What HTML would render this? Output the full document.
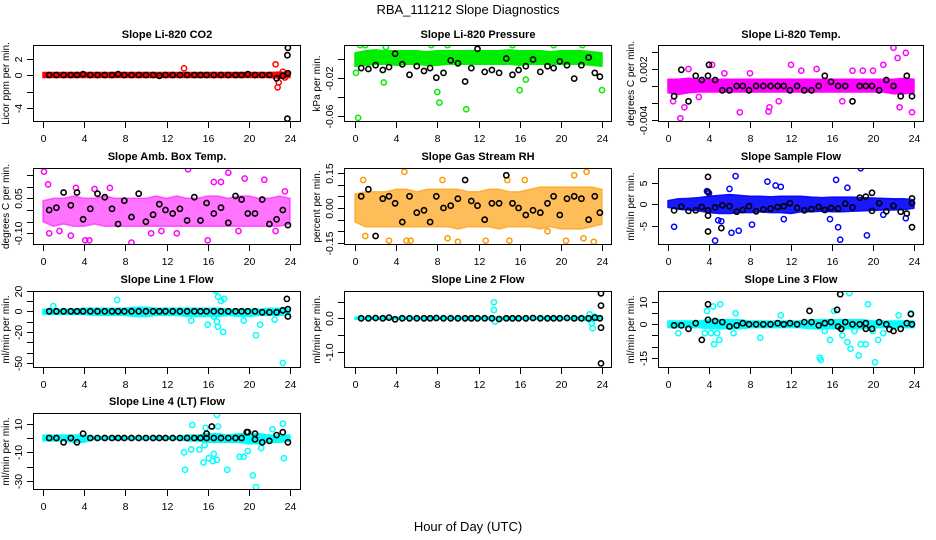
<!DOCTYPE html>
<html><head><meta charset="utf-8"><style>
body{margin:0;background:#fff}
svg{display:block;font-family:"Liberation Sans",Arial,sans-serif}
</style></head><body>
<svg id="chart" width="936" height="540" viewBox="0 0 936 540">
<text x="468" y="14" text-anchor="middle" font-size="13">RBA_111212  Slope Diagnostics</text>
<text x="468" y="531" text-anchor="middle" font-size="13">Hour of Day (UTC)</text>
</svg>
<script>
// ---- shared data ----
const xTicks=[0,4,8,12,16,20,24];
const bandX=[0,1,2,3,4,5,6,7,8,9,10,11,12,13,14,15,16,17,18,19,20,21,22,23,24];
const blackX=[0.6,1.3,2.0,2.7,3.3,3.9,4.6,5.3,6.0,6.7,7.3,7.9,8.6,9.3,10.0,10.7,11.3,11.9,12.6,13.3,14.0,14.7,15.3,15.9,16.6,17.3,18.0,18.7,19.3,19.9,20.6,21.3,22.0,22.7,23.3,23.8];

// P1 CO2
const p1Hi=[0.3,0.3,0.3,0.3,0.3,0.3,0.3,0.3,0.3,0.3,0.3,0.3,0.3,0.3,0.3,0.3,0.3,0.3,0.3,0.3,0.3,0.3,0.3,0.35,0.3];
const p1Lo=[-0.3,-0.3,-0.3,-0.3,-0.3,-0.3,-0.3,-0.3,-0.3,-0.3,-0.3,-0.3,-0.3,-0.3,-0.3,-0.3,-0.3,-0.3,-0.3,-0.3,-0.3,-0.3,-0.3,-0.4,-0.3];
const p1BlackY=[0,0,0,0,0,0.1,0,0,0,0,0.1,0,0,0,0,0,-0.1,0,0,0,0,0,0,0,0,0,0,0,0,0.1,0,0,0,-0.4,-0.1,0.2];
const p1OutX=[13.7,22.6,22.8,22.9,23.3,23.5];
const p1OutY=[0.8,1.3,-1.5,-0.9,0.4,-0.3];
const p1BOutX=[23.8,23.75,23.75];
const p1BOutY=[3.3,2.4,-5.3];

// P2 Pressure
const p2Hi=[0.006,0.008,0.009,0.008,0.008,0.008,0.008,0.007,0.008,0.008,0.008,0.008,0.008,0.008,0.008,0.009,0.008,0.008,0.008,0.007,0.008,0.008,0.008,0.007,0.006];
const p2Lo=[-0.008,-0.007,-0.006,-0.006,-0.007,-0.006,-0.006,-0.007,-0.007,-0.006,-0.006,-0.006,-0.006,-0.006,-0.006,-0.006,-0.007,-0.006,-0.006,-0.006,-0.006,-0.006,-0.006,-0.007,-0.008];
const p2BlackY=[-0.010,-0.011,-0.007,-0.012,-0.009,0.005,-0.006,-0.017,-0.008,-0.013,-0.010,-0.020,-0.015,-0.002,-0.005,-0.024,-0.010,0.010,-0.014,-0.012,-0.015,0.000,-0.017,-0.012,-0.008,-0.001,-0.014,-0.008,-0.010,-0.003,-0.007,-0.021,-0.007,0.001,-0.015,-0.019];
const p2OutX=[0.3,0.1,2.8,8.0,8.2,10.8,16.0,16.6,24.0,1.0,7.4,9.0,15.3,19.3,22.1,0.5,3.0];
const p2OutY=[-0.062,-0.015,-0.025,-0.035,-0.046,-0.053,-0.033,-0.022,-0.033,0.014,0.014,0.014,0.014,0.014,0.014,0.014,0.012];
const p2BOutX=[];const p2BOutY=[];

// P3 Li-820 Temp
const p3Hi=[0.0008,0.0008,0.0009,0.0008,0.0008,0.0008,0.0008,0.0008,0.0008,0.0008,0.0008,0.0008,0.0008,0.0008,0.0008,0.0008,0.0008,0.0008,0.0008,0.0008,0.0008,0.0008,0.0008,0.0009,0.0008];
const p3Lo=[-0.0008,-0.0010,-0.0008,-0.0007,-0.0007,-0.0007,-0.0007,-0.0007,-0.0007,-0.0007,-0.0007,-0.0007,-0.0007,-0.0007,-0.0007,-0.0007,-0.0007,-0.0007,-0.0007,-0.0007,-0.0007,-0.0007,-0.0009,-0.0009,-0.0008];
const p3BlackY=[-0.0012,0.0019,-0.0018,0.0012,0.0007,0.0012,0.0007,-0.0005,-0.0005,0,0,-0.0005,0,0,0,0,0,-0.0005,0,-0.0005,-0.0005,0,0.0012,0.0005,0,0,-0.0018,0,0,0,-0.0005,0.0007,0,-0.0012,0.0012,-0.0012];
const p3OutX=[1.2,1.6,4.3,7.0,9.8,9.9,12.0,22.0,22.4,23.2,23.8,22.6,21.0,0.5,3.0,10.8,17.0,19.0,13.0,8.0,5.5,2.0,14.5,18.0,20.0];
const p3OutY=[-0.0038,-0.0025,0.0025,-0.0031,-0.0030,-0.0025,0.0025,0.0045,0.0033,0.0039,-0.0031,-0.0025,0.0025,-0.0018,-0.0013,-0.0018,-0.0018,0.0018,0.0018,0.0015,0.0015,0.0020,0.0020,0.0018,0.0018];
const p3BOutX=[4.0];const p3BOutY=[0.0025];

// P4 Amb Box Temp
const p4Hi=[0.04,0.05,0.05,0.06,0.05,0.05,0.06,0.05,0.05,0.05,0.05,0.06,0.05,0.06,0.05,0.05,0.06,0.06,0.05,0.06,0.06,0.05,0.05,0.06,0.05];
const p4Lo=[-0.05,-0.07,-0.06,-0.07,-0.07,-0.06,-0.07,-0.07,-0.07,-0.07,-0.07,-0.07,-0.07,-0.07,-0.07,-0.07,-0.07,-0.07,-0.07,-0.07,-0.07,-0.07,-0.07,-0.07,-0.06];
const p4BlackY=[0,0.01,0.075,0.02,0.075,-0.04,0.005,0.07,0.055,0.005,-0.06,0.04,-0.03,0.07,-0.05,-0.02,0.025,0,-0.015,0.005,-0.045,0.055,-0.045,0.03,-0.015,0.01,-0.055,0.06,0.045,-0.015,-0.015,0.045,-0.06,-0.04,0,-0.065];
const p4OutX=[0.1,0.5,0.6,1.6,2.7,4.1,4.5,8.6,10.5,14.1,16.0,16.6,17.3,18.0,19.6,21.5,22.6,13.0,19.0,6.5,5.0,3.2,11.5,23.5];
const p4OutY=[0.165,0.11,-0.1,-0.09,-0.11,-0.13,-0.13,-0.14,-0.1,0.175,-0.13,0.12,0.12,0.16,0.135,0.13,-0.09,-0.1,-0.09,0.095,0.09,0.095,-0.09,0.08];
const p4BOutX=[];const p4BOutY=[];

// P5 Gas Stream RH
const p5Hi=[0.06,0.07,0.07,0.07,0.08,0.08,0.07,0.08,0.08,0.08,0.08,0.07,0.07,0.08,0.08,0.07,0.07,0.08,0.09,0.09,0.09,0.09,0.09,0.09,0.08];
const p5Lo=[-0.06,-0.08,-0.08,-0.08,-0.08,-0.08,-0.08,-0.08,-0.08,-0.08,-0.09,-0.08,-0.08,-0.08,-0.09,-0.08,-0.08,-0.08,-0.09,-0.08,-0.09,-0.09,-0.09,-0.08,-0.07];
const p5BlackY=[0.05,0.08,-0.12,0.04,0.05,0.02,-0.06,0.05,-0.02,-0.01,-0.06,0.05,0,0.01,0.04,0.12,0.03,0.01,-0.05,0.02,0.02,0.14,0.02,0.0,-0.03,-0.01,-0.02,0.02,0.05,-0.03,0.04,0.05,0.04,-0.05,0.05,-0.02];
const p5OutX=[4.8,21.3,22.5,1.0,3.3,5.0,5.4,10.0,12.7,23.2,22.2,18.7,15.0,0.8,9.0,14.8,20.5,8.5,16.5];
const p5OutY=[0.155,0.14,0.155,-0.12,-0.14,-0.14,-0.14,-0.145,-0.14,-0.145,-0.13,-0.1,-0.14,0.12,-0.13,0.12,-0.14,0.12,0.12];
const p5BOutX=[];const p5BOutY=[];

// P6 Sample Flow
const p6Hi=[0.8,1.2,1.3,1.5,1.8,2.0,2.2,2.0,1.8,1.8,1.7,1.8,1.8,1.8,1.6,1.5,1.6,1.6,1.6,1.5,1.4,1.3,1.2,1.2,1.0];
const p6Lo=[-0.8,-1.2,-1.4,-1.6,-2.0,-2.2,-2.2,-2.0,-2.0,-1.8,-2.0,-2.0,-2.2,-1.8,-1.8,-1.7,-1.8,-1.8,-1.7,-1.6,-1.5,-1.4,-1.4,-1.3,-1.0];
const p6BlackY=[-1.5,-0.6,-1.6,-1.5,-0.7,-1.5,-0.8,-0.3,-0.5,-1.8,-1.4,-0.5,-1.7,-1.3,-1.1,-0.7,-0.5,0.2,-0.9,-1.5,-1.2,-0.7,-1.4,-0.9,-1.1,0.1,-0.8,1.5,1.7,-1.6,0.2,-1.7,-0.4,-1.8,-2.2,0.2];
const p6OutX=[0.6,3.8,4.6,4.9,5.2,6.2,6.6,6.9,8.2,9.7,11.0,11.3,10.5,16.4,16.6,16.8,15.8,18.8,19.4,17.5,21.0,23.2,4.0,6.0];
const p6OutY=[-5.3,3.0,-8.5,-3.8,-4.0,-6.7,6.5,-6.2,-4.8,5.2,4.0,-3.5,4.3,5.6,-5.4,-8.3,-3.5,8.3,-7.3,3.8,-2.5,-3.3,2.5,3.5];
const p6BOutX=[3.9,3.9,3.9,3.9,5.2,19.9,23.8,23.8];
const p6BOutY=[6.3,2.8,-2.7,-6.4,-5.6,2.6,-5.4,1.3];

// P7 Line 1 Flow
const p7Hi=[2,2,2,2,3,3,3,3,3,4,4,3,3,3,3,3,3,3,2,2,2,2,3,3,2];
const p7Lo=[-3,-3,-3,-3,-3,-4,-4,-4,-4,-5,-5,-4,-4,-4,-5,-5,-5,-5,-4,-5,-5,-4,-4,-4,-3];
const p7BlackY=[0,0,0,0,0,0,0,0,0,0,0,0,0,0,0,0,0,0,0,0,0,0,0,0,0,0,0,0,0,0,0,-1,-1,-1,1,2];
const p7OutX=[7.2,16.8,17.0,17.3,17.6,16.0,17.0,17.5,20.7,21.1,23.3,16.6,16.9,1.0,14.4,19.5,22.5];
const p7OutY=[11,20,14,10,12,-13,-15,-20,-23,-13,-50,-5,-10,5,-9,-9,-8];
const p7BOutX=[23.7,23.8];const p7BOutY=[12,-5];

// P8 Line 2 Flow
const p8Hi=[0.03,0.03,0.03,0.03,0.03,0.03,0.03,0.03,0.03,0.03,0.03,0.03,0.03,0.03,0.03,0.03,0.03,0.03,0.03,0.03,0.03,0.03,0.04,0.06,0.03];
const p8Lo=[-0.03,-0.03,-0.03,-0.03,-0.03,-0.03,-0.03,-0.03,-0.03,-0.03,-0.03,-0.03,-0.03,-0.04,-0.04,-0.04,-0.03,-0.03,-0.03,-0.03,-0.03,-0.04,-0.05,-0.1,-0.03];
const p8BlackY=[0,0,0.01,0,0.02,-0.03,0,0,0,0,0,0.01,0,0,0,0,0,0,0,0,-0.02,0,0,0,0,0.01,0,0,0,0,0.01,0,0,0,0.02,0];
const p8OutX=[13.5,13.5,23.0,23.1,23.3,22.8,13.6];
const p8OutY=[0.48,0.25,-0.15,-0.3,0.05,0.12,-0.1];
const p8BOutX=[23.9,23.9,23.9,23.9];const p8BOutY=[0.75,0.38,-0.28,-1.35];

// P9 Line 3 Flow
const p9Hi=[1.5,1.5,1.5,1.5,2,2,2,2,1.5,1.5,1.5,1.5,1.5,1.5,2,2,2,2,2,2,1.5,1.5,1.5,1.5,1.5];
const p9Lo=[-1.5,-1.5,-1.5,-1.5,-2,-2,-2,-2,-1.5,-1.5,-1.5,-1.5,-1.5,-1.5,-2,-2,-2,-2,-2,-2,-1.5,-1.5,-1.5,-1.5,-1.5];
const p9BlackY=[-0.5,-0.5,-2,0.5,-7,2,1.5,1,-1,-0.5,0.5,0,0,0,0,0.5,0,0.5,0,1,1,-0.5,0.5,1,-1,1,0,0,0.5,-2,1,0,-3,-2,0.5,0];
const p9OutX=[1.0,3.6,3.8,4.2,4.4,4.5,4.8,5.0,5.1,6.4,6.6,9.0,11.0,14.8,14.9,15.3,15.8,16.2,17.0,17.5,17.7,17.8,18.2,18.6,18.8,19.3,19.5,20.0,20.2,20.5,21.0,22.5,23.7];
const p9OutY=[-4,-4,6,-4,8,-9,-4,-7,9,-4,5,-6,4,-15,-16,-3,-7,6,-5,-8,14,-11,-3,-14,-9,-9,9,-3,-17,-7,-4,4,5];
const p9BOutX=[3.9,16.8,13.8,16.5,23.7,21.6,19.3,16.9];
const p9BOutY=[9,13.5,6,6.5,4.6,-2.2,-2,-2];

// P10 Line 4 (LT) Flow
const p10Hi=[2,2,2,2,2,1,1,1,1,1,1,1,1,1,2,2,3,3,2,3,3,3,2,2,2];
const p10Lo=[-2,-2,-2,-3,-3,-1,-1,-1,-1,-1,-1,-1,-1,-1,-2,-2,-3,-3,-3,-3,-4,-4,-3,-3,-2];
const p10BlackY=[0,0,-3,0,-3,3,0,0,0,0,0,0,0,0,0,0,0,0,0,0,0,0,0,0,0,0,0,0,0,4,-1,-3,-2,2,4,-3];
const p10OutX=[13.7,13.8,14.4,14.5,15.2,15.6,15.7,16.1,16.5,16.9,16.6,16.9,17.9,19.1,19.5,19.9,20.4,20.7,21.2,22.3,23.4,23.3,17.0,15.8];
const p10OutY=[-10,-22,-8,9,-8,-17,-5,-14,-16,16,-11,-15,-22,-13,-13,-9,-26,-34,-7,6,-14,10,8,7];
const p10BOutX=[15.9,16.4,19.8,20.6];const p10BOutY=[3,8,4,3];

// ---- layout ----
const cols=[{l:33,r:301,x0:43,x24:290},{l:344,r:612,x0:355,x24:602},{l:658,r:924,x0:668,x24:914}];
const rows=[{t:45,b:122,ty:38},{t:168,b:245,ty:160},{t:291,b:368,ty:283},{t:413,b:490,ty:405}];
const panels=[
 {c:0,r:0,title:"Slope Li-820 CO2",ylab:"Licor ppm per min.",col:"#ff0000",va:0,pa:75,vb:-4,pb:108,ticks:[2,0,-2,-4],tl:["2","0","","-4"],hi:p1Hi,lo:p1Lo,by:p1BlackY,ox:p1OutX,oy:p1OutY,bx2:p1BOutX,by2:p1BOutY},
 {c:1,r:0,title:"Slope Li-820 Pressure",ylab:"kPa per min.",col:"#00ee00",va:0,pa:58.5,vb:-0.06,pb:116,ticks:[0,-0.02,-0.04,-0.06],tl:["","-0.02","","-0.06"],hi:p2Hi,lo:p2Lo,by:p2BlackY,ox:p2OutX,oy:p2OutY,bx2:p2BOutX,by2:p2BOutY},
 {c:2,r:0,title:"Slope Li-820 Temp.",ylab:"degrees C per min.",col:"#ff00ff",va:0,pa:86,vb:-0.004,pb:120,ticks:[0.004,0.002,0,-0.002,-0.004],tl:["","0.002","","","-0.004"],hi:p3Hi,lo:p3Lo,by:p3BlackY,ox:p3OutX,oy:p3OutY,bx2:p3BOutX,by2:p3BOutY},
 {c:0,r:1,title:"Slope Amb. Box Temp.",ylab:"degrees C per min.",col:"#ff00ff",op:0.55,va:0,pa:210,vb:-0.1,pb:233.3,ticks:[0.15,0.1,0.05,0,-0.05,-0.1],tl:["","","0.05","","","-0.10"],hi:p4Hi,lo:p4Lo,by:p4BlackY,ox:p4OutX,oy:p4OutY,bx2:p4BOutX,by2:p4BOutY},
 {c:1,r:1,title:"Slope Gas Stream RH",ylab:"percent per min.",col:"#ff9a00",op:0.65,va:0,pa:208,vb:-0.15,pb:243,ticks:[0.15,0.1,0.05,0,-0.05,-0.1,-0.15],tl:["0.15","","","0.00","","","-0.15"],hi:p5Hi,lo:p5Lo,by:p5BlackY,ox:p5OutX,oy:p5OutY,bx2:p5BOutX,by2:p5BOutY},
 {c:2,r:1,title:"Slope Sample Flow",ylab:"ml/min per min.",col:"#0000ff",op:0.9,va:0,pa:204,vb:-5,pb:225.5,ticks:[5,0,-5],tl:["5","0","-5"],hi:p6Hi,lo:p6Lo,by:p6BlackY,ox:p6OutX,oy:p6OutY,bx2:p6BOutX,by2:p6BOutY},
 {c:0,r:2,title:"Slope Line 1 Flow",ylab:"ml/min per min.",col:"#00ffff",va:0,pa:311.3,vb:-50,pb:363,ticks:[20,10,0,-10,-20,-30,-40,-50],tl:["20","","0","","-20","","","-50"],hi:p7Hi,lo:p7Lo,by:p7BlackY,ox:p7OutX,oy:p7OutY,bx2:p7BOutX,by2:p7BOutY},
 {c:1,r:2,title:"Slope Line 2 Flow",ylab:"ml/min per min.",col:"#00ffff",va:0,pa:318.3,vb:-1,pb:351.7,ticks:[0.5,0,-0.5,-1],tl:["","0.0","","-1.0"],hi:p8Hi,lo:p8Lo,by:p8BlackY,ox:p8OutX,oy:p8OutY,bx2:p8BOutX,by2:p8BOutY},
 {c:2,r:2,title:"Slope Line 3 Flow",ylab:"ml/min per min.",col:"#00ffff",va:0,pa:324.3,vb:-15,pb:357.7,ticks:[10,5,0,-5,-10,-15],tl:["10","","0","","","-15"],hi:p9Hi,lo:p9Lo,by:p9BlackY,ox:p9OutX,oy:p9OutY,bx2:p9BOutX,by2:p9BOutY},
 {c:0,r:3,title:"Slope Line 4 (LT) Flow",ylab:"ml/min per min.",col:"#00ffff",va:0,pa:438,vb:-30,pb:481.3,ticks:[10,0,-10,-20,-30],tl:["10","","-10","","-30"],hi:p10Hi,lo:p10Lo,by:p10BlackY,ox:p10OutX,oy:p10OutY,bx2:p10BOutX,by2:p10BOutY}
];
const NS="http://www.w3.org/2000/svg";
const svg=document.getElementById('chart');
function mk(tag,attrs,parent){const e=document.createElementNS(NS,tag);for(const k in attrs)e.setAttribute(k,attrs[k]);(parent||svg).appendChild(e);return e;}
function ring(g,x,y,color,w){const c=mk('circle',{cx:x.toFixed(1),cy:y.toFixed(1),r:2.6,fill:'none',stroke:color,'stroke-width':w},g);

}

panels.forEach((p,i)=>{
 const C=cols[p.c],R=rows[p.r];
 const g=mk('g',{});
 
 
 const sx=v=>C.x0+(C.x24-C.x0)*v/24;
 const sy=v=>p.pa+(p.pb-p.pa)*(v-p.va)/(p.vb-p.va);
 const clip='clip'+i;
 const cp=mk('clipPath',{id:clip},g);mk('rect',{x:C.l,y:R.t,width:C.r-C.l,height:R.b-R.t},cp);
 const pg=mk('g',{'clip-path':'url(#'+clip+')'},g);
 
 
 let pts=[];bandX.forEach((x,k)=>pts.push(sx(x).toFixed(1)+','+sy(p.hi[k]).toFixed(1)));
 for(let k=bandX.length-1;k>=0;k--)pts.push(sx(bandX[k]).toFixed(1)+','+sy(p.lo[k]).toFixed(1));
 const band=mk('polygon',{points:pts.join(' '),fill:p.col,'fill-opacity':p.op||1,stroke:p.col,'stroke-width':1.5,'stroke-linejoin':'round','stroke-opacity':p.op||1},pg);
 
 
 p.ox.forEach((x,k)=>ring(pg,sx(x),sy(p.oy[k]),p.col,1.5));
 blackX.forEach((x,k)=>ring(pg,sx(x),sy(p.by[k]),'#000',1.6));
 p.bx2.forEach((x,k)=>ring(pg,sx(x),sy(p.by2[k]),'#000',1.6));
 const box=mk('rect',{x:C.l+0.5,y:R.t+0.5,width:C.r-C.l-1,height:R.b-R.t-1,fill:'none',stroke:'#000','stroke-width':1},g);
 
 
 xTicks.forEach(v=>{const x=Math.round(sx(v))+0.5;mk('line',{x1:x,x2:x,y1:R.b,y2:R.b+6,stroke:'#000'},g);
  const t=mk('text',{x:x,y:R.b+20,'text-anchor':'middle','font-size':10.5},g);t.textContent=v;
  
  });
 p.ticks.forEach((v,k)=>{const y=Math.round(sy(v))+0.5;mk('line',{x1:C.l-6,x2:C.l,y1:y,y2:y,stroke:'#000'},g);
  if(p.tl[k]){const tx=C.l-11;const t=mk('text',{x:tx,y:y,'text-anchor':'middle','font-size':10.5,transform:'rotate(-90 '+tx+' '+y+')'},g);t.textContent=p.tl[k];
  
  }});
 const tt=mk('text',{x:(C.l+C.r)/2,y:R.ty,'text-anchor':'middle','font-size':11,'font-weight':'bold'},g);tt.textContent=p.title;
 
 
 const yx=C.l-24,ym=(R.t+R.b)/2;
 const yl=mk('text',{x:yx,y:ym,'text-anchor':'middle','font-size':10,transform:'rotate(-90 '+yx+' '+ym+')'},g);yl.textContent=p.ylab;
 
 
});
</script>
</body></html>
